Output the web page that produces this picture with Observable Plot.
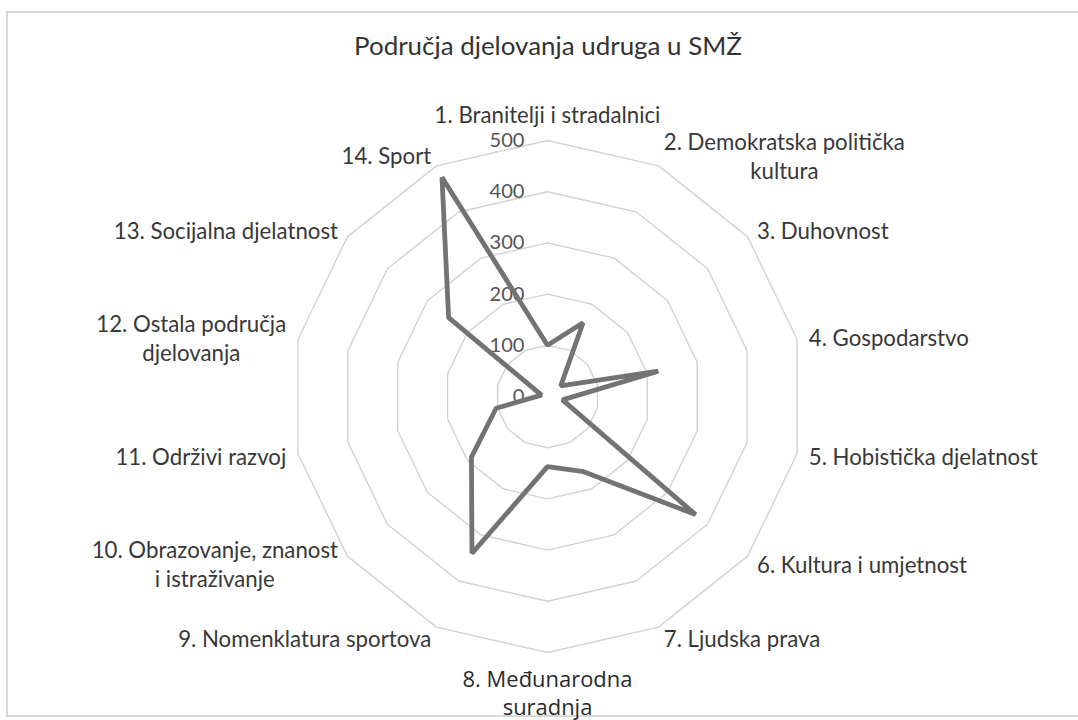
<!DOCTYPE html>
<html><head><meta charset="utf-8">
<script src="https://cdn.jsdelivr.net/npm/d3@7"></script>
<script src="https://cdn.jsdelivr.net/npm/@observablehq/plot@0.6"></script>
<style>
body{margin:0;background:#fff;overflow:hidden;}
#frame{position:absolute;left:6px;top:11px;width:1100px;height:706px;border:2px solid #d8d8d8;box-sizing:border-box;}
#title{position:absolute;left:0;width:1096px;text-align:center;font-family:Lato;color:#333;}
#chart{position:absolute;left:0;top:70px;}
</style></head><body>
<div id="frame"></div>
<div id="title"></div>
<div id="chart"></div>
<script>
// ---- data ----
const titleText = "Područja djelovanja udruga u SMŽ";
const categories = [
  "1. Branitelji i stradalnici",
  "2. Demokratska politička\nkultura",
  "3. Duhovnost",
  "4. Gospodarstvo",
  "5. Hobistička djelatnost",
  "6. Kultura i umjetnost",
  "7. Ljudska prava",
  "8. Međunarodna\nsuradnja",
  "9. Nomenklatura sportova",
  "10. Obrazovanje, znanost\ni istraživanje",
  "11. Održivi razvoj",
  "12. Ostala područja\ndjelovanja",
  "13. Socijalna djelatnost",
  "14. Sport"
];
const values = [100, 160, 33, 222, 30, 370, 163, 137, 340, 190, 103, 12, 247, 475];
const levels = [0, 100, 200, 300, 400, 500];
const tickLabels = ["0", "100", "200", "300", "400", "500"];

// ---- layout ----
const W = 1078, H = 650, cx = 547, cy = 326, Rpx = 256;
const maxV = levels[levels.length - 1];
const k = Rpx / maxV;
const n = categories.length;
const ang = i => 2 * Math.PI * i / n;

const ctx = document.createElement("canvas").getContext("2d");
function measure(text, font) { ctx.font = font; return ctx.measureText(text).width; }
function fit(text, family, target) { return 20 * target / measure(text, `20px ${family}`); }

const LF = "Lato", SF = "'Open Sans'";
const labelSize = fit("6. Kultura i umjetnost", LF, 210);
const tickSize = fit("500", LF, 35);
const titleSize = fit(titleText, LF, 388);
const specialSize = fit("8. Međunarodna", SF, 170);

const t = document.getElementById("title");
t.textContent = titleText;
t.style.fontSize = titleSize + "px";
t.style.top = (45 - titleSize * 0.62) + "px";

const gap = 12;
const specialLH = 28;
const labelData = categories.map((c, i) => {
  const a = ang(i), s = Math.sin(a), co = Math.cos(a);
  const special = i === 7;
  const fam = special ? SF : LF;
  const fs = special ? specialSize : labelSize;
  const lh = special ? specialLH : 29;
  const lines = c.split("\n");
  const w = Math.max(...lines.map(l => measure(l, `${fs}px ${fam}`)));
  const h = lines.length * lh;
  let px, py;
  if (Math.abs(s) < 1e-6) {
    px = cx;
    py = cy - co * (Rpx + gap) - co * h / 2;
  } else {
    px = cx + s * (Rpx + gap) + Math.sign(s) * w / 2;
    py = cy - co * (Rpx + gap);
  }
  return {text: c, x: (px - cx) / k, y: (cy - py) / k, special};
});

const ringData = levels.filter(l => l > 0).flatMap(l => categories.map((_, i) => ({l, i})));

const chart = Plot.plot({
  width: W, height: H, margin: 0,
  style: {background: "transparent"},
  x: {domain: [-cx / k, (W - cx) / k], range: [0, W], axis: null},
  y: {domain: [-(H - cy) / k, cy / k], range: [H, 0], axis: null},
  marks: [
    Plot.line(ringData, {
      x: d => d.l * Math.sin(ang(d.i)), y: d => d.l * Math.cos(ang(d.i)), z: "l",
      curve: "linear-closed", stroke: "#d2d2d2", strokeWidth: 1.4
    }),
    Plot.text(levels, {
      x: 0, y: d => d, text: (d, i) => tickLabels[i], textAnchor: "end", dx: -23,
      fontFamily: LF, fontSize: tickSize, fill: "#555"
    }),
    Plot.line(values, {
      x: (d, i) => d * Math.sin(ang(i)), y: (d, i) => d * Math.cos(ang(i)),
      curve: "linear-closed", stroke: "#737373", strokeWidth: 4.8, strokeLinejoin: "miter"
    }),
    Plot.text(labelData.filter(d => !d.special), {
      x: "x", y: "y", text: "text", textAnchor: "middle", lineAnchor: "middle",
      lineHeight: 29 / labelSize, fontFamily: LF, fontSize: labelSize, fill: "#383838"
    }),
    Plot.text(labelData.filter(d => d.special), {
      x: "x", y: "y", text: "text", textAnchor: "middle", lineAnchor: "middle",
      lineHeight: specialLH / specialSize, fontFamily: SF, fontSize: specialSize, fill: "#2a2a2a"
    })
  ]
});
document.getElementById("chart").appendChild(chart);
</script>
</body></html>
